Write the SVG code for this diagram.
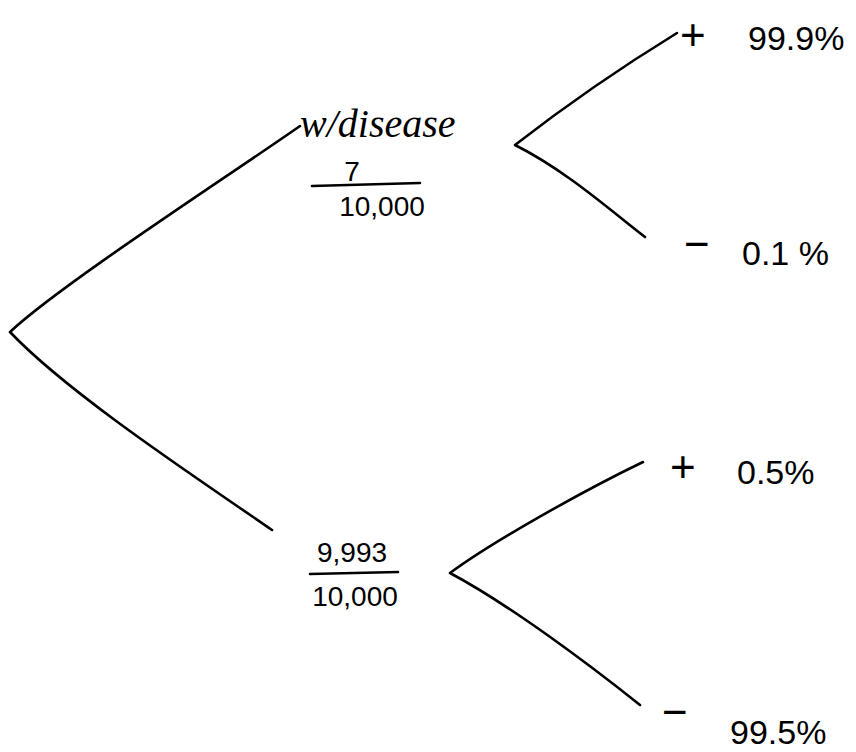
<svg xmlns="http://www.w3.org/2000/svg" width="856" height="752" viewBox="0 0 856 752">
<style>
.ln{fill:none;stroke:#000;stroke-width:2.6;stroke-linecap:round;stroke-linejoin:round}
.t{font-family:"Liberation Sans",Arial,sans-serif;fill:#000;font-size:34px}
.s{font-family:"Liberation Sans",Arial,sans-serif;fill:#000;font-size:44px}
.f{font-family:"Liberation Sans",Arial,sans-serif;fill:#000;font-size:28px}
.h{font-family:"Liberation Serif",serif;font-style:italic;fill:#000;font-size:40px}
</style>
<rect width="856" height="752" fill="#fff"/>
<g id="connectors">
<path class="ln" d="M300,126 C230,175 60,285 10,332 C70,395 200,480 272,530"/>
<path class="ln" d="M677,33 C620,68 560,110 515,145 C565,170 610,210 645,237"/>
<path class="ln" d="M643,462 C585,490 495,540 450,573 C510,605 590,665 640,705"/>
</g>
<g id="n-disease">
<text class="h" x="300" y="137">w/disease</text>
<text class="f" x="352" y="181" text-anchor="middle">7</text>
<line class="ln" x1="312" y1="186" x2="420" y2="183"/>
<text class="f" x="382" y="216" text-anchor="middle">10,000</text>
</g>
<g id="n-nodisease">
<text class="f" x="352" y="562" text-anchor="middle">9,993</text>
<line class="ln" x1="310" y1="574" x2="398" y2="572"/>
<text class="f" x="355" y="606" text-anchor="middle">10,000</text>
</g>
<g id="l1">
<text class="s" x="680" y="50">+</text>
<text class="t" x="748" y="50">99.9%</text>
</g>
<g id="l2">
<text class="s" x="684" y="259">−</text>
<text class="t" x="742" y="265">0.1 %</text>
</g>
<g id="l3">
<text class="s" x="670" y="482">+</text>
<text class="t" x="737" y="484">0.5%</text>
</g>
<g id="l4">
<text class="s" x="662" y="727">−</text>
<text class="t" x="730" y="744">99.5%</text>
</g>
</svg>
